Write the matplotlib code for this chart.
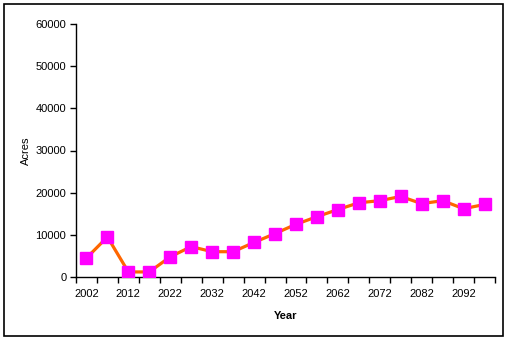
import matplotlib
matplotlib.use("Agg")
import matplotlib.pyplot as plt
from matplotlib.patches import Rectangle

plt.rcParams['font.family'] = ['Liberation Sans', 'DejaVu Sans']

years = list(range(2002, 2098, 5))
acres = [4500, 9500, 1200, 1200, 4800, 7200, 6000, 6000, 8200, 10300,
         12500, 14300, 16000, 17600, 18100, 19100, 17400, 18100, 16200, 17200]
year_labels = [str(y) for y in years[::2]]

fig = plt.figure(figsize=(5.12, 3.44), dpi=100)
ax = fig.add_axes([76 / 512, 1 - 277 / 344, 419 / 512, 253 / 344])

# outer chart border
fig.patches.append(Rectangle((4 / 512, 1 - 336 / 344), 499 / 512, 332 / 344,
                             transform=fig.transFigure, fill=False,
                             edgecolor='black', linewidth=1.2))

idx = list(range(len(years)))
ax.plot(idx, acres, color='#FF6600', linewidth=2.3, marker='s',
        markersize=8.8, markerfacecolor='#FF00FF', markeredgecolor='#FF00FF',
        zorder=3)

ax.set_xlim(-0.5, len(years) - 0.5)
ax.set_ylim(0, 60000)
ax.set_yticks(range(0, 60001, 10000))
ax.set_xticks([i - 0.5 for i in range(len(years) + 1)])
ax.set_xticklabels([])
ax.set_xticks(idx[::2], minor=True)
ax.set_xticklabels(year_labels, minor=True)
ax.tick_params(axis='x', which='minor', length=0, pad=8.5, labelsize=8)
ax.tick_params(axis='x', which='major', length=4, width=1, direction='out')
ax.tick_params(axis='y', length=4, width=1, direction='out', labelsize=8, pad=3)

for s in ['top', 'right']:
    ax.spines[s].set_visible(False)
for s in ['left', 'bottom']:
    ax.spines[s].set_linewidth(1)

ax.set_xlabel('Year', fontsize=8, fontweight='bold', labelpad=9)
ax.set_ylabel('Acres', fontsize=8, labelpad=3.5)

fig.savefig('out.png', dpi=100)
